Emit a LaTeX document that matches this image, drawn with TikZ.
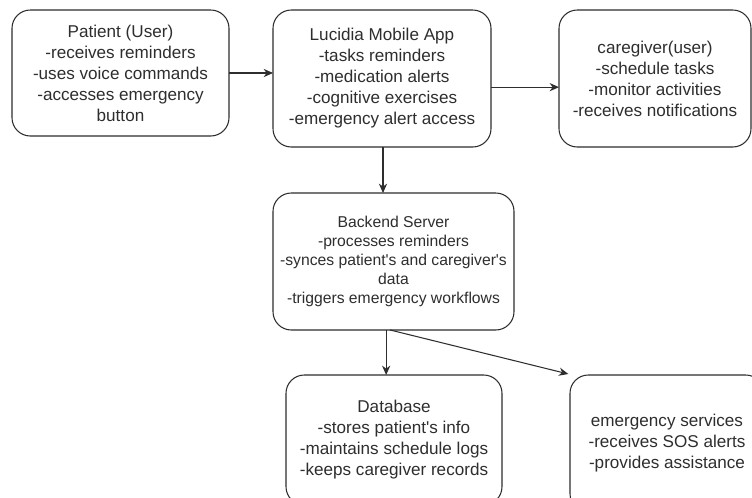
\documentclass[tikz,border=0pt]{standalone}
\usepackage{fontspec}
\setmainfont{Liberation Sans}
\usetikzlibrary{arrows.meta}

\definecolor{inkgrey}{HTML}{2E2E2E}

\tikzset{
	block/.style={draw=inkgrey, line width=0.9pt, rounded corners=0.55cm, fill=white,
		align=center, inner sep=0pt, outer sep=0pt, text=inkgrey,
		font=\fontsize{14.6}{17.9}\selectfont},
	smallblock/.style={block, font=\fontsize{13.4}{16.4}\selectfont},
	flow/.style={->, line width=0.9pt, draw=inkgrey}
}

\begin{document}
\begin{tikzpicture}[x=0.03cm, y=-0.03cm, >={Stealth[length=8pt,width=7pt]}]
			
			\clip (0,0) rectangle (752,497);
			\fill[white] (0,0) rectangle (752,497);
			
			\node[block, minimum width=6.51cm, minimum height=3.78cm] (patient) at (120.5,73)
			  {Patient (User)\\-receives reminders\\-uses voice commands\\-accesses emergency\\button};
			
			\node[block, minimum width=6.54cm, minimum height=4.11cm] (app) at (382,78.5)
			  {Lucidia Mobile App\\-tasks reminders\\-medication alerts\\-cognitive exercises\\-emergency alert access};
			
			\node[block, minimum width=5.76cm, minimum height=4.11cm] (caregiver) at (655,78.5)
			  {caregiver(user)\\-schedule tasks\\-monitor activities\\-receives notifications};
			
			\node[smallblock, minimum width=7.23cm, minimum height=4.11cm] (server) at (393.5,261.5)
			  {Backend Server\\-processes reminders\\-synces patient\textquotesingle s and caregiver\textquotesingle s\\data\\-triggers emergency workflows};
			
			\node[block, minimum width=6.48cm, minimum height=3.9cm] (database) at (394,440)
			  {Database\\-stores patient\textquotesingle s info\\-maintains schedule logs\\-keeps caregiver records};
			
			\node[block, minimum width=5.82cm, minimum height=4.11cm] (emergency) at (667,443.5)
			  {emergency services\\-receives SOS alerts\\-provides assistance};
			
			% connectors
			\draw[flow] (patient.east) -- (patient.east -| app.west);
			\draw[flow] ([yshift=-0.26cm]app.east) -- ([yshift=-0.26cm]caregiver.west);
			\draw[flow] ([xshift=0.03cm]app.south) -- ([xshift=0.03cm]app.south |- server.north);
			\draw[flow] ([xshift=-0.22cm]server.south) -- ([xshift=-0.22cm]server.south |- database.north);
			\draw[flow] ([xshift=-0.1cm]server.south) -- ([xshift=-0.05cm,yshift=0.03cm]emergency.north west);
			
		  \end{tikzpicture}
\end{document}
